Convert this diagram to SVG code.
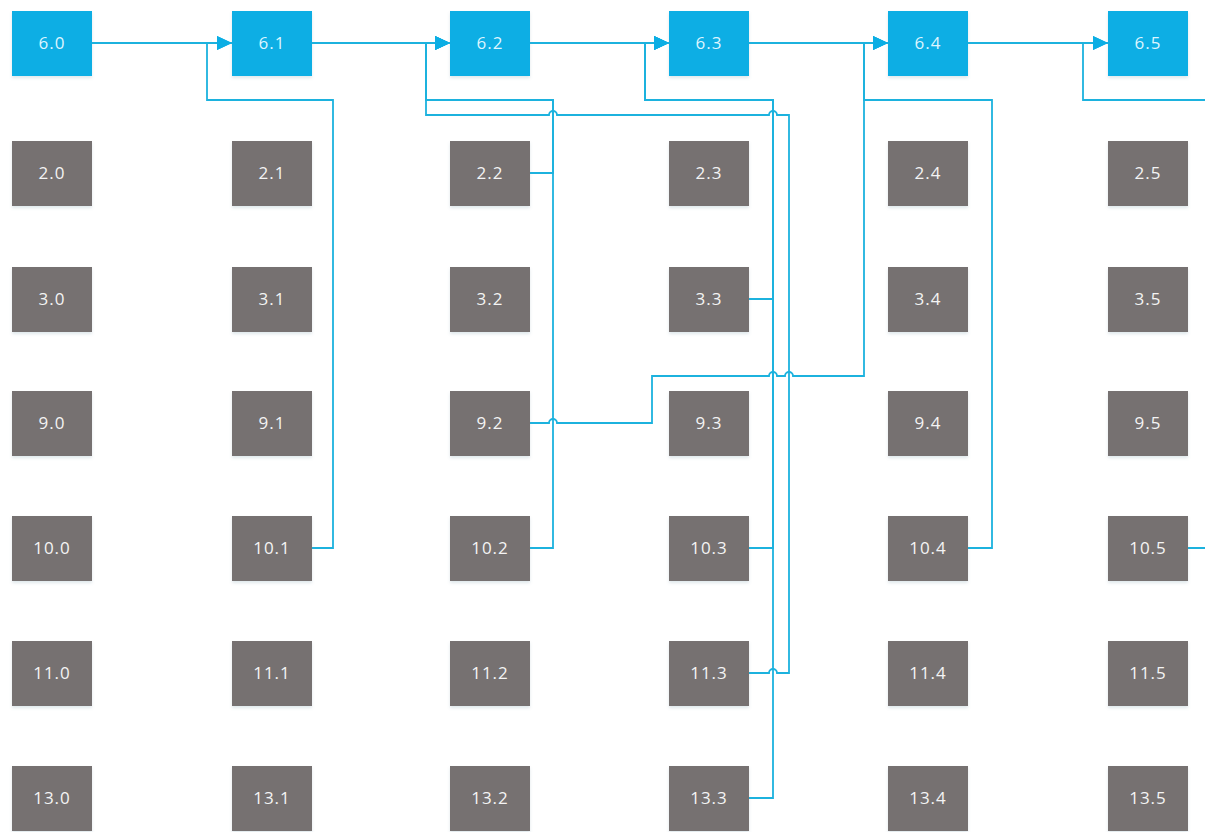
<svg xmlns="http://www.w3.org/2000/svg" width="1205" height="832" viewBox="0 0 1205 832">
  <style>
    .box { stroke: none; filter: url(#shadow); }
    .blue { fill: #0BAEE4; }
    .gray { fill: #767171; }
    .lbl { font-family: "Open Sans", "DejaVu Sans", sans-serif; font-size: 17px; letter-spacing: 1px; text-anchor: middle; }
    .lbl-blue { fill: #DDF5FF; }
    .lbl-gray { fill: #F4F4F4; }
    .wire { fill: none; stroke: #1CB2DE; stroke-width: 1.8; stroke-linejoin: miter; }
    .arrow { marker-end: url(#head); }
  </style>
  <defs>
    <filter id="shadow" x="-10%" y="-10%" width="120%" height="130%">
      <feDropShadow dx="0" dy="2" stdDeviation="1.5" flood-color="#7FA0B0" flood-opacity="0.25"/>
    </filter>
    <marker id="head" markerUnits="userSpaceOnUse" markerWidth="16" markerHeight="14" refX="15" refY="7" orient="auto">
      <path d="M0,0 L15,7 L0,14 Z" fill="#0BAEE4"/>
    </marker>
  </defs>

  <rect width="1205" height="832" fill="#FFFFFF"/>

  <!-- connectors (drawn first so boxes sit on top) -->
  <g id="connectors">
    <path class="wire arrow" d="M92,43 H232"/>
    <path class="wire arrow" d="M312,548 H333 V100 H207 V43 H232"/>
    <path class="wire arrow" d="M312,43 H450"/>
    <path class="wire arrow" d="M530,173 H553 V100 H426 V43 H450"/>
    <path class="wire arrow" d="M530,548 H553 V100 H426 V43 H450"/>
    <path class="wire arrow" d="M749,673 H769 A4,4 0 0 1 777,673 H789 V115 H777 A4,4 0 0 0 769,115 H557 A4,4 0 0 0 549,115 H426 V43 H450"/>
    <path class="wire arrow" d="M530,43 H669"/>
    <path class="wire arrow" d="M749,299 H773 V100 H645 V43 H669"/>
    <path class="wire arrow" d="M749,548 H773 V100 H645 V43 H669"/>
    <path class="wire arrow" d="M749,798 H773 V100 H645 V43 H669"/>
    <path class="wire arrow" d="M749,43 H888"/>
    <path class="wire arrow" d="M530,423 H549 A4,4 0 0 1 557,423 H652 V376 H769 A4,4 0 0 1 777,376 H785 A4,4 0 0 1 793,376 H864 V43 H888"/>
    <path class="wire arrow" d="M968,548 H992 V100 H864 V43 H888"/>
    <path class="wire arrow" d="M968,43 H1108"/>
    <path class="wire arrow" d="M1187,548 H1215 V100 H1083 V43 H1108"/>
  </g>

  <!-- row 6 (blue) -->
  <g id="n6_0"><rect class="box blue" x="12" y="11" width="80" height="65"/><text class="lbl lbl-blue" x="52" y="49">6.0</text></g>
  <g id="n6_1"><rect class="box blue" x="232" y="11" width="80" height="65"/><text class="lbl lbl-blue" x="272" y="49">6.1</text></g>
  <g id="n6_2"><rect class="box blue" x="450" y="11" width="80" height="65"/><text class="lbl lbl-blue" x="490" y="49">6.2</text></g>
  <g id="n6_3"><rect class="box blue" x="669" y="11" width="80" height="65"/><text class="lbl lbl-blue" x="709" y="49">6.3</text></g>
  <g id="n6_4"><rect class="box blue" x="888" y="11" width="80" height="65"/><text class="lbl lbl-blue" x="928" y="49">6.4</text></g>
  <g id="n6_5"><rect class="box blue" x="1108" y="11" width="80" height="65"/><text class="lbl lbl-blue" x="1148" y="49">6.5</text></g>

  <!-- row 2 -->
  <g id="n2_0"><rect class="box gray" x="12" y="141" width="80" height="65"/><text class="lbl lbl-gray" x="52" y="179">2.0</text></g>
  <g id="n2_1"><rect class="box gray" x="232" y="141" width="80" height="65"/><text class="lbl lbl-gray" x="272" y="179">2.1</text></g>
  <g id="n2_2"><rect class="box gray" x="450" y="141" width="80" height="65"/><text class="lbl lbl-gray" x="490" y="179">2.2</text></g>
  <g id="n2_3"><rect class="box gray" x="669" y="141" width="80" height="65"/><text class="lbl lbl-gray" x="709" y="179">2.3</text></g>
  <g id="n2_4"><rect class="box gray" x="888" y="141" width="80" height="65"/><text class="lbl lbl-gray" x="928" y="179">2.4</text></g>
  <g id="n2_5"><rect class="box gray" x="1108" y="141" width="80" height="65"/><text class="lbl lbl-gray" x="1148" y="179">2.5</text></g>

  <!-- row 3 -->
  <g id="n3_0"><rect class="box gray" x="12" y="267" width="80" height="65"/><text class="lbl lbl-gray" x="52" y="305">3.0</text></g>
  <g id="n3_1"><rect class="box gray" x="232" y="267" width="80" height="65"/><text class="lbl lbl-gray" x="272" y="305">3.1</text></g>
  <g id="n3_2"><rect class="box gray" x="450" y="267" width="80" height="65"/><text class="lbl lbl-gray" x="490" y="305">3.2</text></g>
  <g id="n3_3"><rect class="box gray" x="669" y="267" width="80" height="65"/><text class="lbl lbl-gray" x="709" y="305">3.3</text></g>
  <g id="n3_4"><rect class="box gray" x="888" y="267" width="80" height="65"/><text class="lbl lbl-gray" x="928" y="305">3.4</text></g>
  <g id="n3_5"><rect class="box gray" x="1108" y="267" width="80" height="65"/><text class="lbl lbl-gray" x="1148" y="305">3.5</text></g>

  <!-- row 9 -->
  <g id="n9_0"><rect class="box gray" x="12" y="391" width="80" height="65"/><text class="lbl lbl-gray" x="52" y="429">9.0</text></g>
  <g id="n9_1"><rect class="box gray" x="232" y="391" width="80" height="65"/><text class="lbl lbl-gray" x="272" y="429">9.1</text></g>
  <g id="n9_2"><rect class="box gray" x="450" y="391" width="80" height="65"/><text class="lbl lbl-gray" x="490" y="429">9.2</text></g>
  <g id="n9_3"><rect class="box gray" x="669" y="391" width="80" height="65"/><text class="lbl lbl-gray" x="709" y="429">9.3</text></g>
  <g id="n9_4"><rect class="box gray" x="888" y="391" width="80" height="65"/><text class="lbl lbl-gray" x="928" y="429">9.4</text></g>
  <g id="n9_5"><rect class="box gray" x="1108" y="391" width="80" height="65"/><text class="lbl lbl-gray" x="1148" y="429">9.5</text></g>

  <!-- row 10 -->
  <g id="n10_0"><rect class="box gray" x="12" y="516" width="80" height="65"/><text class="lbl lbl-gray" x="52" y="554">10.0</text></g>
  <g id="n10_1"><rect class="box gray" x="232" y="516" width="80" height="65"/><text class="lbl lbl-gray" x="272" y="554">10.1</text></g>
  <g id="n10_2"><rect class="box gray" x="450" y="516" width="80" height="65"/><text class="lbl lbl-gray" x="490" y="554">10.2</text></g>
  <g id="n10_3"><rect class="box gray" x="669" y="516" width="80" height="65"/><text class="lbl lbl-gray" x="709" y="554">10.3</text></g>
  <g id="n10_4"><rect class="box gray" x="888" y="516" width="80" height="65"/><text class="lbl lbl-gray" x="928" y="554">10.4</text></g>
  <g id="n10_5"><rect class="box gray" x="1108" y="516" width="80" height="65"/><text class="lbl lbl-gray" x="1148" y="554">10.5</text></g>

  <!-- row 11 -->
  <g id="n11_0"><rect class="box gray" x="12" y="641" width="80" height="65"/><text class="lbl lbl-gray" x="52" y="679">11.0</text></g>
  <g id="n11_1"><rect class="box gray" x="232" y="641" width="80" height="65"/><text class="lbl lbl-gray" x="272" y="679">11.1</text></g>
  <g id="n11_2"><rect class="box gray" x="450" y="641" width="80" height="65"/><text class="lbl lbl-gray" x="490" y="679">11.2</text></g>
  <g id="n11_3"><rect class="box gray" x="669" y="641" width="80" height="65"/><text class="lbl lbl-gray" x="709" y="679">11.3</text></g>
  <g id="n11_4"><rect class="box gray" x="888" y="641" width="80" height="65"/><text class="lbl lbl-gray" x="928" y="679">11.4</text></g>
  <g id="n11_5"><rect class="box gray" x="1108" y="641" width="80" height="65"/><text class="lbl lbl-gray" x="1148" y="679">11.5</text></g>

  <!-- row 13 -->
  <g id="n13_0"><rect class="box gray" x="12" y="766" width="80" height="65"/><text class="lbl lbl-gray" x="52" y="804">13.0</text></g>
  <g id="n13_1"><rect class="box gray" x="232" y="766" width="80" height="65"/><text class="lbl lbl-gray" x="272" y="804">13.1</text></g>
  <g id="n13_2"><rect class="box gray" x="450" y="766" width="80" height="65"/><text class="lbl lbl-gray" x="490" y="804">13.2</text></g>
  <g id="n13_3"><rect class="box gray" x="669" y="766" width="80" height="65"/><text class="lbl lbl-gray" x="709" y="804">13.3</text></g>
  <g id="n13_4"><rect class="box gray" x="888" y="766" width="80" height="65"/><text class="lbl lbl-gray" x="928" y="804">13.4</text></g>
  <g id="n13_5"><rect class="box gray" x="1108" y="766" width="80" height="65"/><text class="lbl lbl-gray" x="1148" y="804">13.5</text></g>
</svg>
